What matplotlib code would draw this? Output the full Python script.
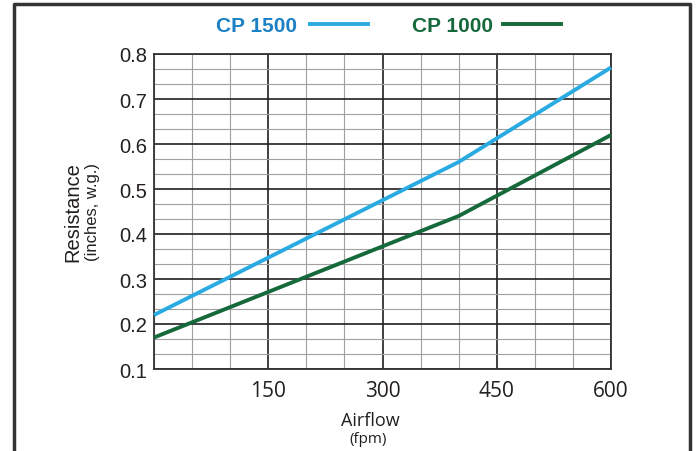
import numpy as np
import matplotlib
matplotlib.use('Agg')
import matplotlib.pyplot as plt
from matplotlib.lines import Line2D

airflow = [0, 400, 600]
cp1500 = [0.22, 0.56, 0.77]
cp1000 = [0.17, 0.44, 0.62]

x_ticks = [150, 300, 450, 600]
y_ticks = [0.1, 0.2, 0.3, 0.4, 0.5, 0.6, 0.7, 0.8]

blue = '#29abe2'
blue_text = '#1b80c4'
green = '#15693a'
ink = '#231f20'

plt.rcParams['font.family'] = ['Open Sans', 'DejaVu Sans']

fig = plt.figure(figsize=(6.96, 4.52), dpi=100)
ax = fig.add_axes([154 / 696, 1 - 370 / 452, 457 / 696, 315 / 452])

ax.set_xlim(0, 600)
ax.set_ylim(0.1, 0.8)
ax.set_xticks(x_ticks)
ax.set_xticklabels([str(v) for v in x_ticks], fontsize=15, color=ink)
ax.set_yticks(y_ticks)
ax.set_yticklabels([f'{v:.1f}' for v in y_ticks], fontsize=14.5, color=ink,
                   family='Liberation Sans')
ax.set_xticks(np.arange(0, 601, 50), minor=True)
ax.set_yticks(np.linspace(0.1, 0.8, 22), minor=True)
ax.tick_params(which='both', length=0)
ax.tick_params(axis='x', pad=8)
ax.tick_params(axis='y', pad=5)

ax.grid(which='minor', color='#a0a0a0', lw=0.8)
ax.grid(which='major', color=ink, lw=1.2)
ax.set_axisbelow(True)
for s in ax.spines.values():
    s.set_color('#333333')
    s.set_linewidth(1.3)

ax.plot(airflow, cp1500, color=blue, lw=2.8, solid_capstyle='butt', clip_on=False, zorder=5)
ax.plot(airflow, cp1000, color=green, lw=2.8, solid_capstyle='butt', clip_on=False, zorder=5)

# axis labels with sub-units
fig.text(73 / 696, 1 - 212 / 452, 'Resistance', rotation=90, ha='center', va='center',
         fontsize=14.5, color=ink, family='Liberation Sans')
fig.text(92 / 696, 1 - 212 / 452, '(inches, w.g.)', rotation=90, ha='center', va='center',
         fontsize=12, color=ink, family='Liberation Sans')
fig.text(370 / 696, 1 - 421 / 452, 'Airflow', ha='center', va='center',
         fontsize=13, color=ink)
fig.text(368 / 696, 1 - 440 / 452, '(fpm)', ha='center', va='center',
         fontsize=11, color=ink)

# legend along the top
fig.text(256 / 696, 1 - 27 / 452, 'CP 1500', ha='center', va='center',
         fontsize=15, fontweight='bold', color=blue_text, family='Liberation Sans')
fig.add_artist(Line2D([310 / 696, 368 / 696], [1 - 25 / 452] * 2, color=blue, lw=2.8))
fig.text(452 / 696, 1 - 27 / 452, 'CP 1000', ha='center', va='center',
         fontsize=15, fontweight='bold', color=green, family='Liberation Sans')
fig.add_artist(Line2D([503 / 696, 561 / 696], [1 - 25 / 452] * 2, color=green, lw=2.8))

# outer frame
fig.add_artist(Line2D([14 / 696, 14 / 696, 690 / 696, 690 / 696],
                      [0, 1 - 5 / 452, 1 - 5 / 452, 0], color='#333333', lw=2.5))

fig.savefig('out.png', dpi=100)
